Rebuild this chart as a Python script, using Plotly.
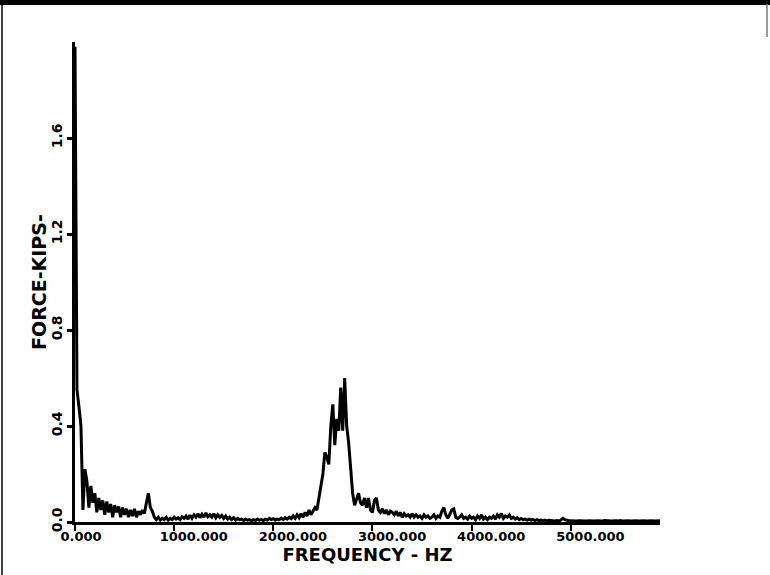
import plotly.graph_objects as go

# ---------------- Data (20 Hz bins) ----------------
freq_step_hz = 20

force_kips = [
    # 0 - 780 Hz
    1.98, 0.55, 0.48, 0.40, 0.05, 0.22, 0.17, 0.06, 0.15, 0.08,
    0.12, 0.04, 0.10, 0.05, 0.09, 0.03, 0.085, 0.04, 0.075, 0.02,
    0.07, 0.04, 0.065, 0.02, 0.06, 0.03, 0.055, 0.02, 0.05, 0.025,
    0.055, 0.02, 0.045, 0.03, 0.05, 0.035, 0.08, 0.12, 0.06, 0.045,
    # 800 - 1580 Hz
    0.02, 0.01, 0.02, 0.008, 0.015, 0.01, 0.02, 0.008, 0.015, 0.01,
    0.02, 0.012, 0.018, 0.01, 0.022, 0.015, 0.025, 0.012, 0.028, 0.015,
    0.03, 0.02, 0.035, 0.018, 0.032, 0.02, 0.038, 0.022, 0.03, 0.02,
    0.035, 0.018, 0.03, 0.02, 0.028, 0.015, 0.025, 0.012, 0.02, 0.01,
    # 1600 - 2380 Hz
    0.018, 0.008, 0.015, 0.01, 0.012, 0.006, 0.012, 0.008, 0.01, 0.005,
    0.01, 0.006, 0.012, 0.008, 0.01, 0.006, 0.012, 0.008, 0.015, 0.01,
    0.014, 0.008, 0.012, 0.01, 0.016, 0.01, 0.018, 0.012, 0.02, 0.014,
    0.025, 0.015, 0.03, 0.018, 0.035, 0.02, 0.04, 0.025, 0.05, 0.03,
    # 2400 - 3180 Hz
    0.045, 0.06, 0.05, 0.10, 0.14, 0.20, 0.29, 0.27, 0.24, 0.40,
    0.49, 0.32, 0.43, 0.38, 0.56, 0.38, 0.60, 0.40, 0.33, 0.24,
    0.12, 0.07, 0.10, 0.12, 0.08, 0.07, 0.10, 0.06, 0.10, 0.05,
    0.04, 0.09, 0.10, 0.05, 0.04, 0.055, 0.035, 0.05, 0.03, 0.045,
    # 3200 - 3980 Hz
    0.04, 0.03, 0.045, 0.025, 0.04, 0.02, 0.035, 0.025, 0.03, 0.02,
    0.035, 0.02, 0.03, 0.02, 0.025, 0.015, 0.03, 0.02, 0.025, 0.015,
    0.02, 0.03, 0.015, 0.025, 0.02, 0.045, 0.06, 0.03, 0.015, 0.03,
    0.05, 0.055, 0.02, 0.015, 0.02, 0.03, 0.015, 0.02, 0.012, 0.025,
    # 4000 - 4780 Hz
    0.015, 0.02, 0.01, 0.025, 0.015, 0.03, 0.012, 0.02, 0.01, 0.02,
    0.015, 0.025, 0.012, 0.03, 0.02, 0.035, 0.015, 0.025, 0.02, 0.03,
    0.015, 0.02, 0.012, 0.018, 0.01, 0.015, 0.01, 0.012, 0.008, 0.012,
    0.008, 0.01, 0.006, 0.01, 0.006, 0.008, 0.005, 0.008, 0.005, 0.007,
    # 4800 - 5580 Hz
    0.005, 0.006, 0.004, 0.006, 0.004, 0.008, 0.015, 0.01, 0.006, 0.005,
    0.005, 0.004, 0.006, 0.004, 0.005, 0.004, 0.006, 0.005, 0.004, 0.005,
    0.004, 0.006, 0.004, 0.005, 0.004, 0.005, 0.004, 0.006, 0.004, 0.005,
    0.004, 0.005, 0.004, 0.005, 0.004, 0.006, 0.004, 0.005, 0.004, 0.005,
    # 5600 - 5900 Hz
    0.004, 0.005, 0.004, 0.005, 0.004, 0.005, 0.004, 0.005, 0.004, 0.005,
    0.004, 0.005, 0.004, 0.005, 0.004, 0.005,
]
freq_hz = [i * freq_step_hz for i in range(len(force_kips))]

x_tickvals = [0, 1000, 2000, 3000, 4000, 5000]
x_ticktext = ["0.000", "1000.000", "2000.000", "3000.000", "4000.000", "5000.000"]
y_tickvals = [0.0, 0.4, 0.8, 1.2, 1.6]
y_ticktext = ["0.0", "0.4", "0.8", "1.2", "1.6"]

# ---------------- Figure ----------------
W, H = 770, 575
L, R, T, B = 75, 110, 42, 53
pw, ph = W - L - R, H - T - B

fig = go.Figure()
fig.add_trace(go.Scatter(
    x=freq_hz, y=force_kips, mode="lines",
    line=dict(color="black", width=3),
    showlegend=False,
))

font_main = dict(family="DejaVu Sans", color="black", weight="bold")

fig.update_layout(
    width=W, height=H,
    margin=dict(l=L, r=R, t=T, b=B, autoexpand=False),
    paper_bgcolor="white", plot_bgcolor="white",
    xaxis=dict(
        range=[0, 5900], showgrid=False, zeroline=False,
        showline=True, linecolor="black", linewidth=3,
        ticks="outside", ticklen=6, tickwidth=2, tickcolor="black",
        tickvals=x_tickvals, ticktext=x_ticktext,
        ticklabelposition="outside right", ticklabelshift=-17,
        tickfont=dict(size=13, **font_main),
        title=dict(text="FREQUENCY - HZ", font=dict(size=18, **font_main), standoff=2),
        automargin=False,
    ),
    yaxis=dict(
        range=[0, 2.0], showgrid=False, zeroline=False,
        showline=True, linecolor="black", linewidth=2.5,
        ticks="outside", ticklen=5, tickwidth=3, tickcolor="black",
        tickvals=y_tickvals, ticktext=y_ticktext, tickangle=-90,
        tickfont=dict(size=14, **font_main),
        automargin=False,
    ),
)

# scan frame: heavy top edge, thin left edge, short right edge
def px_x(p):
    return (p - L) / pw

def px_y(p):
    return (H - B - p) / ph

# y-axis title sits close to the tick labels in the scan
fig.add_annotation(
    text="FORCE-KIPS-", xref="paper", yref="paper",
    x=px_x(39), y=0.5, xanchor="center", yanchor="middle",
    textangle=-90, showarrow=False,
    font=dict(size=19, **font_main),
)

fig.add_shape(type="rect", xref="paper", yref="paper",
              x0=px_x(0), x1=px_x(W), y0=px_y(5), y1=px_y(0),
              fillcolor="black", line=dict(width=0))
fig.add_shape(type="line", xref="paper", yref="paper",
              x0=px_x(2), x1=px_x(2), y0=px_y(H), y1=px_y(0),
              line=dict(color="black", width=1.5))
fig.add_shape(type="line", xref="paper", yref="paper",
              x0=px_x(767), x1=px_x(767), y0=px_y(37), y1=px_y(4),
              line=dict(color="#777777", width=1.5))

# the page body has a default 8px margin; drop it so the figure sits at 0,0
fig.write_html("out.html", config={"displayModeBar": False},
               post_script="document.body.style.margin='0';")
